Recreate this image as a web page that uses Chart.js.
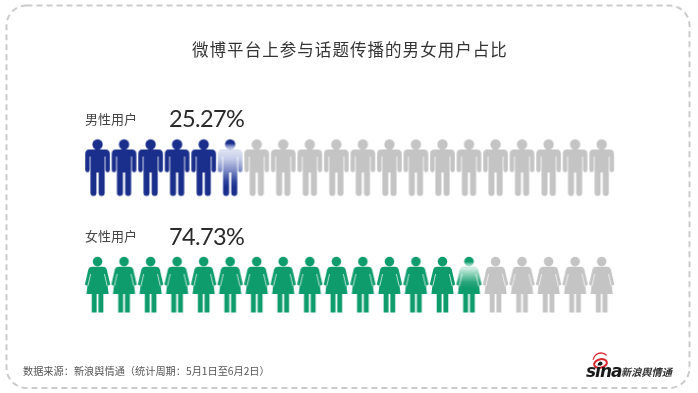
<!DOCTYPE html>
<html>
<head>
<meta charset="utf-8">
<style>
  html, body { margin: 0; padding: 0; background: #fff; }
  #wrap { width: 698px; height: 393px; }
  #myChart { filter: blur(0.35px); }
</style>
<script src="https://cdn.jsdelivr.net/npm/chart.js@4/dist/chart.umd.min.js"></script>
</head>
<body>
<div id="wrap"><canvas id="myChart" width="698" height="393"></canvas></div>
<script>
const chartTitle = '微博平台上参与话题传播的男女用户占比';
const sourceNote = '数据来源：新浪舆情通（统计周期：5月1日至6月2日）';
const rowLabels = ['男性用户', '女性用户'];
const percentLabels = ['25.27%', '74.73%'];
const iconSlots = [1, 2, 3, 4, 5, 6, 7, 8, 9, 10, 11, 12, 13, 14, 15, 16, 17, 18, 19, 20];
// 2 = full colour, 1 = part filled, 0 = grey
const maleStates = [2, 2, 2, 2, 2, 1, 0, 0, 0, 0, 0, 0, 0, 0, 0, 0, 0, 0, 0, 0];
const femaleStates = [2, 2, 2, 2, 2, 2, 2, 2, 2, 2, 2, 2, 2, 2, 1, 0, 0, 0, 0, 0];
const rowValues = [2, 1];

const navy = '#1a2f8c';
const green = '#0e9c6c';
const grey = '#c4c4c4';

function iconCanvas() {
  let c = document.createElement('canvas');
  c.width = 30;
  c.height = 60;
  return c;
}

function drawMale(paint) {
  let c = iconCanvas();
  let g = c.getContext('2d');
  g.translate(15, 2);
  g.fillStyle = paint(g);
  g.beginPath();
  g.arc(0.5, 5, 5.2, 0, Math.PI * 2);
  g.fill();
  g.beginPath();
  g.moveTo(-8, 10);
  g.lineTo(8.5, 10);
  g.quadraticCurveTo(12.8, 10, 12.8, 14.5);
  g.lineTo(12.8, 30.5);
  g.arc(10.6, 30.5, 2.2, 0, Math.PI);
  g.lineTo(8.4, 17);
  g.lineTo(7.6, 17);
  g.lineTo(7.6, 53.5);
  g.arc(4.6, 53.5, 3, 0, Math.PI);
  g.lineTo(1.6, 33);
  g.lineTo(-0.6, 33);
  g.lineTo(-0.6, 53.5);
  g.arc(-3.6, 53.5, 3, 0, Math.PI);
  g.lineTo(-6.6, 17);
  g.lineTo(-7.4, 17);
  g.lineTo(-7.4, 30.5);
  g.arc(-9.6, 30.5, 2.2, 0, Math.PI);
  g.lineTo(-11.8, 14.5);
  g.quadraticCurveTo(-11.8, 10, -8, 10);
  g.closePath();
  g.fill();
  return c;
}

function drawFemale(paint) {
  let c = iconCanvas();
  let g = c.getContext('2d');
  g.translate(15, 2);
  g.fillStyle = paint(g);
  g.beginPath();
  g.arc(0.5, 4.6, 4.8, 0, Math.PI * 2);
  g.fill();
  g.beginPath();
  g.moveTo(-5, 9.8);
  g.lineTo(6, 9.8);
  g.quadraticCurveTo(8.6, 9.8, 9.6, 12);
  g.lineTo(13.2, 27.5);
  g.lineTo(10.6, 29);
  g.lineTo(11.6, 37);
  g.lineTo(6.3, 37);
  g.lineTo(6.3, 55.5);
  g.lineTo(1.4, 55.5);
  g.lineTo(1.4, 37);
  g.lineTo(-0.4, 37);
  g.lineTo(-0.4, 55.5);
  g.lineTo(-5.3, 55.5);
  g.lineTo(-5.3, 37);
  g.lineTo(-10.6, 37);
  g.lineTo(-9.6, 29);
  g.lineTo(-12.2, 27.5);
  g.lineTo(-8.6, 12);
  g.quadraticCurveTo(-7.6, 9.8, -5, 9.8);
  g.closePath();
  g.fill();
  // pale slits between arm and dress
  g.globalCompositeOperation = 'destination-out';
  g.strokeStyle = 'rgba(0,0,0,0.7)';
  g.lineWidth = 1;
  g.beginPath();
  g.moveTo(-6.4, 17);
  g.lineTo(-9.2, 29);
  g.moveTo(7.4, 17);
  g.lineTo(10.2, 29);
  g.stroke();
  return c;
}

function fade(stops) {
  return g => {
    let lg = g.createLinearGradient(0, 0, 0, 56);
    stops.forEach(s => lg.addColorStop(s[0], s[1]));
    return lg;
  };
}

const maleIcons = [
  drawMale(() => grey),
  drawMale(fade([[0, navy], [0.07, navy], [0.13, '#9aa5d6'], [0.2, '#dfe3f3'], [0.35, '#c3cbe8'], [0.55, '#7f8dc6'], [0.75, '#2d429b'], [0.85, navy], [1, navy]])),
  drawMale(() => navy)
];
const femaleIcons = [
  drawFemale(() => grey),
  drawFemale(fade([[0, green], [0.08, green], [0.14, '#8fd3bb'], [0.2, '#d4eee5'], [0.3, '#8cd2b9'], [0.45, '#2aa67c'], [0.56, green], [1, green]])),
  drawFemale(() => green)
];

// page frame, headings and the source logo
const framePlugin = {
  id: 'frame',
  beforeDraw(chart) {
    let ctx = chart.ctx;
    ctx.save();
    ctx.strokeStyle = '#cbcbcb';
    ctx.lineWidth = 2;
    ctx.setLineDash([6, 4]);
    ctx.beginPath();
    ctx.roundRect(6.5, 5.5, 683, 382.5, 20);
    ctx.stroke();
    ctx.restore();
  },
  afterDraw(chart) {
    let ctx = chart.ctx;
    let yScale = chart.scales.y;
    ctx.save();
    ctx.textBaseline = 'middle';
    ctx.textAlign = 'left';

    ctx.fillStyle = '#333';
    ctx.font = '16.5px "Noto Sans CJK SC"';
    ctx.letterSpacing = '1.05px';
    ctx.fillText(chartTitle, 192, 50);
    ctx.letterSpacing = '0px';

    rowValues.forEach((row, i) => {
      let yp = yScale.getPixelForValue(row);
      ctx.fillStyle = '#444';
      ctx.font = '13px "Noto Sans CJK SC"';
      ctx.fillText(rowLabels[i], 85, yp - 48.5);
      ctx.fillStyle = '#2a2a2a';
      ctx.font = '23.5px Lato';
      ctx.letterSpacing = '-0.6px';
      ctx.fillText(percentLabels[i], 169, yp - 48);
      ctx.letterSpacing = '0px';
    });

    ctx.fillStyle = '#555';
    ctx.font = '10.2px "Noto Sans CJK SC"';
    ctx.fillText(sourceNote, 23, 371);

    // logo
    ctx.strokeStyle = '#d8262c';
    ctx.lineWidth = 2;
    ctx.beginPath();
    ctx.ellipse(600.5, 363.5, 6.5, 4.2, -0.25, 0, Math.PI * 2);
    ctx.stroke();
    ctx.lineWidth = 1.3;
    ctx.beginPath();
    ctx.arc(601, 361, 8, Math.PI * 1.05, Math.PI * 1.75);
    ctx.stroke();
    ctx.fillStyle = '#222';
    ctx.beginPath();
    ctx.arc(600.5, 363.5, 2, 0, Math.PI * 2);
    ctx.fill();
    ctx.font = 'italic bold 17px "DejaVu Sans"';
    ctx.fillStyle = '#1a1a1a';
    ctx.letterSpacing = '-1px';
    ctx.fillText('sina', 586, 373);
    ctx.letterSpacing = '0px';
    ctx.font = 'italic bold 10.2px "Noto Sans CJK SC"';
    ctx.fillStyle = '#333';
    ctx.fillText('新浪舆情通', 621, 372);
    ctx.restore();
  }
};

function rowData(row) {
  return iconSlots.map(slot => ({ x: slot, y: row }));
}

new Chart(document.getElementById('myChart'), {
  type: 'scatter',
  plugins: [framePlugin],
  data: {
    datasets: [
      {
        label: rowLabels[0],
        data: rowData(rowValues[0]),
        pointStyle: maleStates.map(s => maleIcons[s]),
        pointRadius: 14
      },
      {
        label: rowLabels[1],
        data: rowData(rowValues[1]),
        pointStyle: femaleStates.map(s => femaleIcons[s]),
        pointRadius: 14
      }
    ]
  },
  options: {
    responsive: false,
    animation: false,
    layout: { padding: 0, autoPadding: false },
    plugins: {
      legend: { display: false },
      tooltip: { enabled: false }
    },
    scales: {
      x: { type: 'linear', display: false, min: -2.656, max: 23.65 },
      y: { type: 'linear', display: false, min: 0.0808, max: 3.4255 }
    }
  }
});
</script>
</body>
</html>
